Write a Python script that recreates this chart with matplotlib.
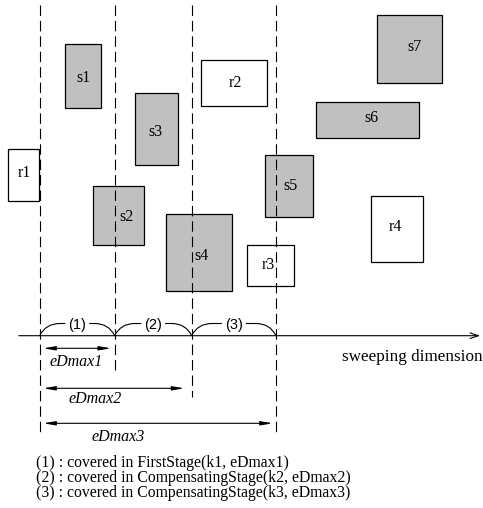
import matplotlib
matplotlib.use("Agg")
import matplotlib.pyplot as plt
from matplotlib.patches import Rectangle, PathPatch
from matplotlib.path import Path

plt.rcParams['lines.scale_dashes'] = False
SERIF = ['Liberation Serif', 'DejaVu Serif']
SANS = ['Liberation Sans', 'DejaVu Sans']

# Rectangles (diagram units: pixels, y downwards)
rect_names = ['s1', 's3', 's2', 's4', 's5', 's6', 's7', 'r1', 'r2', 'r3', 'r4']
rect_x0 = [65.3, 135.3, 93.3, 166.3, 264.7, 316.3, 377.0, 7.7, 201.3, 247.0, 371.3]
rect_x1 = [101.3, 177.7, 144.3, 231.7, 313.0, 419.0, 442.0, 39.0, 266.7, 294.3, 423.3]
rect_y0 = [43.7, 93.3, 185.7, 214.3, 154.7, 102.3, 15.0, 149.3, 60.3, 245.3, 196.0]
rect_y1 = [108.3, 165.3, 245.3, 291.3, 217.3, 137.7, 83.0, 201.0, 106.0, 285.7, 262.0]
rect_filled = [True, True, True, True, True, True, True, False, False, False, False]
label_x = [83.3, 155.0, 126.7, 201.7, 290.0, 371.7, 415.0, 24.0, 235.0, 268.3, 395.7]
label_y = [78.3, 131.7, 217.3, 256.0, 186.0, 118.3, 47.3, 173.0, 82.7, 265.0, 227.3]

# Sweep stage boundaries
bound_x = [39.7, 114.7, 191.7, 276.0]
bound_end = [433.0, 371.7, 396.7, 435.0]
stage_labels = ['(1)', '(2)', '(3)']
edmax_labels = ['eDmax1', 'eDmax2', 'eDmax3']
edmax_end = [111.0, 184.3, 272.7]
edmax_y = [348.3, 388.3, 423.3]
edmax_label_x = [76.0, 95.0, 118.0]
edmax_label_y = [361.7, 399.0, 436.7]
legend_lines = ['(1) : covered in FirstStage(k1, eDmax1)',
                '(2) : covered in CompensatingStage(k2, eDmax2)',
                '(3) : covered in CompensatingStage(k3, eDmax3)']
legend_y = [462.7, 478.3, 493.3]

W, H = 483, 508
fig = plt.figure(figsize=(W / 100, H / 100), dpi=100)
ax = fig.add_axes([0, 0, 1, 1])
ax.set_xlim(0, W)
ax.set_ylim(H, 0)
ax.axis('off')

axis_y = 335.7

# dashed boundaries
for bx, be in zip(bound_x, bound_end):
    ax.plot([bx, bx], [5, be], color='black', lw=0.8, linestyle=(0, (7.5, 3.6)), zorder=3)

# rectangles
for n, x0, x1, y0, y1, f, lx, ly in zip(rect_names, rect_x0, rect_x1, rect_y0, rect_y1,
                                        rect_filled, label_x, label_y):
    ax.add_patch(Rectangle((x0, y0), x1 - x0, y1 - y0,
                           facecolor='#c0c0c0' if f else 'white',
                           edgecolor='black', lw=0.9, zorder=2))
    ax.text(lx, ly, n, ha='center', va='center', fontsize=11.5, family=SERIF, zorder=4)

# axis
ax.annotate('', xy=(483, axis_y), xytext=(16, axis_y),
            arrowprops=dict(arrowstyle='->,head_length=0.6,head_width=0.2', lw=0.8, color='black'))
ax.text(483, 356.7, 'sweeping dimension', ha='right', va='center', fontsize=12.3, family=SERIF)

# braces for stages
top = 323.5
for i, lab in enumerate(stage_labels):
    x0, x1 = bound_x[i], bound_x[i + 1]
    xm = (x0 + x1) / 2
    gap = 12
    r = 20
    verts = [(x0, axis_y), (x0 + r * 0.3, top), (x0 + r, top), (xm - gap, top)]
    codes = [Path.MOVETO, Path.CURVE3, Path.CURVE3, Path.LINETO]
    ax.add_patch(PathPatch(Path(verts, codes), fill=False, lw=0.8, edgecolor='black'))
    verts = [(xm + gap, top), (x1 - r, top), (x1 - r * 0.3, top), (x1, axis_y)]
    codes = [Path.MOVETO, Path.LINETO, Path.CURVE3, Path.CURVE3]
    ax.add_patch(PathPatch(Path(verts, codes), fill=False, lw=0.8, edgecolor='black'))
    ax.text(xm, top + 1, lab, ha='center', va='center', fontsize=10.5, family=SANS)

# eDmax arrows
for lab, xe, ye, lx, ly in zip(edmax_labels, edmax_end, edmax_y, edmax_label_x, edmax_label_y):
    ax.annotate('', xy=(xe, ye), xytext=(43.3, ye),
                arrowprops=dict(arrowstyle='<|-|>,head_length=0.7,head_width=0.12',
                                lw=0.8, color='black', shrinkA=0, shrinkB=0))
    ax.text(lx, ly, lab, ha='center', va='center', fontsize=11.5, style='italic', family=SERIF)

for t, y in zip(legend_lines, legend_y):
    ax.text(35.7, y, t, ha='left', va='center', fontsize=11.3, family=SERIF)

fig.savefig('out.png', dpi=100)
